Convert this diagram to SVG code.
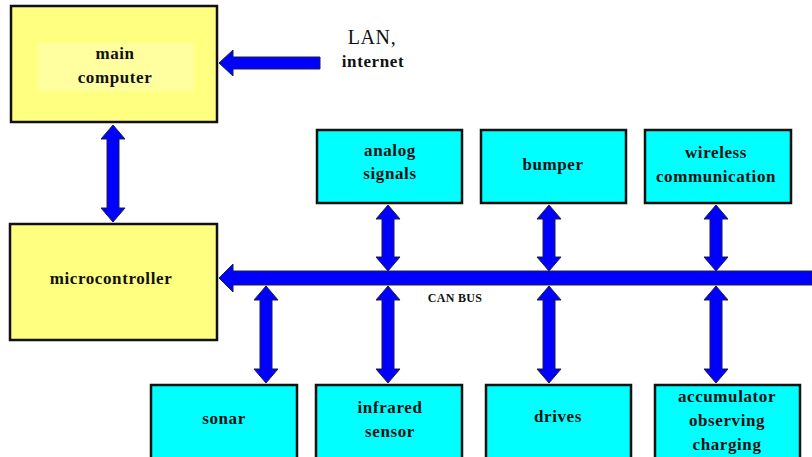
<svg xmlns="http://www.w3.org/2000/svg" width="812" height="457" viewBox="0 0 812 457">
  <style>
    .yel { fill: #ffff80; stroke: #111; stroke-width: 2.5; }
    .cyan { fill: #00ffff; stroke: #111; stroke-width: 2.5; }
    .arr { fill: #0000ff; stroke: #202040; stroke-width: 1; stroke-linejoin: miter; }
    .lbl { font-family: 'Liberation Serif', 'DejaVu Serif', 'Times New Roman', serif; font-weight: bold; font-size: 17px; letter-spacing: 0.6px; fill: #111; text-anchor: middle; }
    .small { font-size: 12px; letter-spacing: 0.3px; }
    .big { font-size: 20px; font-weight: normal; }
  </style>

  <g id="main-computer">
    <rect class="yel" x="11" y="6" width="206" height="116"/>
    <rect x="38" y="43" width="156" height="48" fill="#ffffa0"/>
    <text class="lbl" x="115" y="59">main</text>
    <text class="lbl" x="115" y="83">computer</text>
  </g>

  <g id="lan-label">
    <text class="lbl big" x="372" y="44">LAN,</text>
    <text class="lbl" x="373" y="67">internet</text>
  </g>

  <g id="microcontroller">
    <rect class="yel" x="10" y="224" width="207" height="116"/>
    <text class="lbl" x="111" y="284">microcontroller</text>
  </g>

  <g id="analog-signals">
    <rect class="cyan" x="317" y="130" width="145" height="73"/>
    <text class="lbl" x="390" y="156">analog</text>
    <text class="lbl" x="390" y="179">signals</text>
  </g>
  <g id="bumper">
    <rect class="cyan" x="481" y="130" width="145" height="73"/>
    <text class="lbl" x="553" y="170">bumper</text>
  </g>
  <g id="wireless-communication">
    <rect class="cyan" x="645" y="130" width="146" height="73"/>
    <text class="lbl" x="716" y="158">wireless</text>
    <text class="lbl" x="716" y="182">communication</text>
  </g>

  <g id="sonar">
    <rect class="cyan" x="151" y="385" width="146" height="80"/>
    <text class="lbl" x="224" y="424">sonar</text>
  </g>
  <g id="infrared-sensor">
    <rect class="cyan" x="316" y="385" width="146" height="80"/>
    <text class="lbl" x="390" y="413">infrared</text>
    <text class="lbl" x="390" y="437">sensor</text>
  </g>
  <g id="drives">
    <rect class="cyan" x="486" y="385" width="145" height="80"/>
    <text class="lbl" x="558" y="422">drives</text>
  </g>
  <g id="accumulator">
    <rect class="cyan" x="655" y="385" width="145" height="80"/>
    <text class="lbl" x="727" y="402">accumulator</text>
    <text class="lbl" x="727" y="426">observing</text>
    <text class="lbl" x="727" y="450">charging</text>
  </g>

  <g id="connectors">
    <!-- LAN into main computer -->
    <path class="arr" d="M219,63 L233,50 L233,57 L320,57 L320,69 L233,69 L233,76 Z"/>
    <!-- main computer <-> microcontroller -->
    <path class="arr" d="M113,125 L125,139 L119,139 L119,208 L125,208 L113,222 L101,208 L107,208 L107,139 L101,139 Z"/>
    <!-- CAN bus -->
    <path class="arr" d="M219,278 L233,264 L233,271 L812,271 L812,285 L233,285 L233,292 Z"/>
    <!-- upper devices <-> bus -->
    <path class="arr" d="M388,205 L400,219 L394,219 L394,257 L400,257 L388,271 L376,257 L382,257 L382,219 L376,219 Z"/>
    <path class="arr" d="M549,205 L561,219 L555,219 L555,257 L561,257 L549,271 L537,257 L543,257 L543,219 L537,219 Z"/>
    <path class="arr" d="M716,205 L728,219 L722,219 L722,257 L728,257 L716,271 L704,257 L710,257 L710,219 L704,219 Z"/>
    <!-- lower devices <-> bus -->
    <path class="arr" d="M266,286 L278,300 L272,300 L272,369 L278,369 L266,383 L254,369 L260,369 L260,300 L254,300 Z"/>
    <path class="arr" d="M388,286 L400,300 L394,300 L394,369 L400,369 L388,383 L376,369 L382,369 L382,300 L376,300 Z"/>
    <path class="arr" d="M549,286 L561,300 L555,300 L555,369 L561,369 L549,383 L537,369 L543,369 L543,300 L537,300 Z"/>
    <path class="arr" d="M716,286 L728,300 L722,300 L722,369 L728,369 L716,383 L704,369 L710,369 L710,300 L704,300 Z"/>
    <text class="lbl small" x="455" y="302">CAN BUS</text>
  </g>
</svg>
